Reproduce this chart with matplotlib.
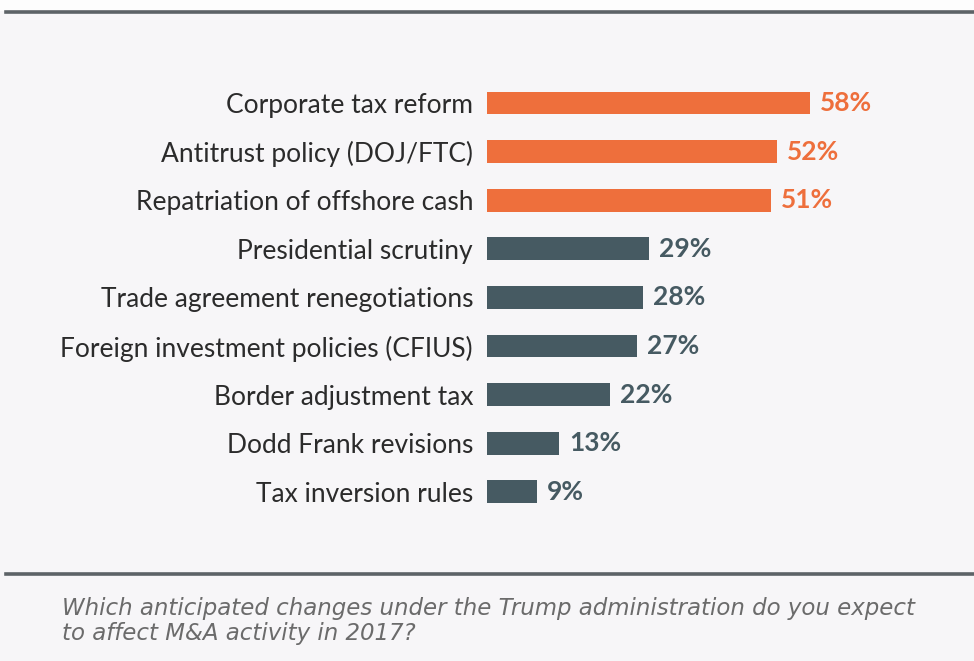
import matplotlib.pyplot as plt
from matplotlib.patches import Rectangle

categories = [
    "Corporate tax reform",
    "Antitrust policy (DOJ/FTC)",
    "Repatriation of offshore cash",
    "Presidential scrutiny",
    "Trade agreement renegotiations",
    "Foreign investment policies (CFIUS)",
    "Border adjustment tax",
    "Dodd Frank revisions",
    "Tax inversion rules",
]
values = [58, 52, 51, 29, 28, 27, 22, 13, 9]
highlight = [True, True, True, False, False, False, False, False, False]
question = ("Which anticipated changes under the Trump administration do you expect\n"
            "to affect M&A activity in 2017?")

ORANGE = "#ee6f3c"
SLATE = "#465a62"
BG = "#f7f6f8"

W, H = 974, 661
fig = plt.figure(figsize=(W / 100, H / 100), dpi=100, facecolor=BG)

# light strip above the top rule
fig.add_artist(Rectangle((0, 1 - 11 / H), 1, 11 / H, transform=fig.transFigure,
                         facecolor="#fdfdfd", edgecolor="none", zorder=0))
# horizontal rules
for ypix in (12, 574):
    fig.add_artist(plt.Line2D([6 / W, 1], [1 - ypix / H, 1 - ypix / H],
                              transform=fig.transFigure, color="#5d6367", lw=2.6))

# axes: x from 487 px, 5.57 px per percent; bar centres 103..492 px
x0, ppu = 487, 5.57
xmax = 80
top, step = 103, 48.6
y_top = top - step / 2
y_bot = top + step * (len(categories) - 0.5)
ax = fig.add_axes([x0 / W, 1 - y_bot / H, xmax * ppu / W, (y_bot - y_top) / H])
ax.set_facecolor("none")
ax.set_xlim(0, xmax)
ax.set_ylim(len(categories) - 0.5, -0.5)

pos = list(range(len(categories)))
colors = [ORANGE if h else SLATE for h in highlight]
ax.barh(pos, values, height=0.47, color=colors)

for p, v, c in zip(pos, values, colors):
    ax.text(v + 1.8, p, f"{v}%", va="center", ha="left", color=c,
            fontsize=19, fontweight="bold", family="Lato")

ax.set_yticks(pos)
ax.set_yticklabels(categories, fontsize=19, family="Lato", color="#2b2b2b")
ax.tick_params(axis="y", length=0, pad=10)
ax.set_xticks([])
for s in ax.spines.values():
    s.set_visible(False)

fig.text(62 / W, 1 - 621 / H, question, ha="left", va="center",
         fontsize=16.5, style="italic", color="#6b6b6b", linespacing=1.1,
         family="DejaVu Sans")

fig.savefig("out.png", dpi=100, facecolor=BG)
